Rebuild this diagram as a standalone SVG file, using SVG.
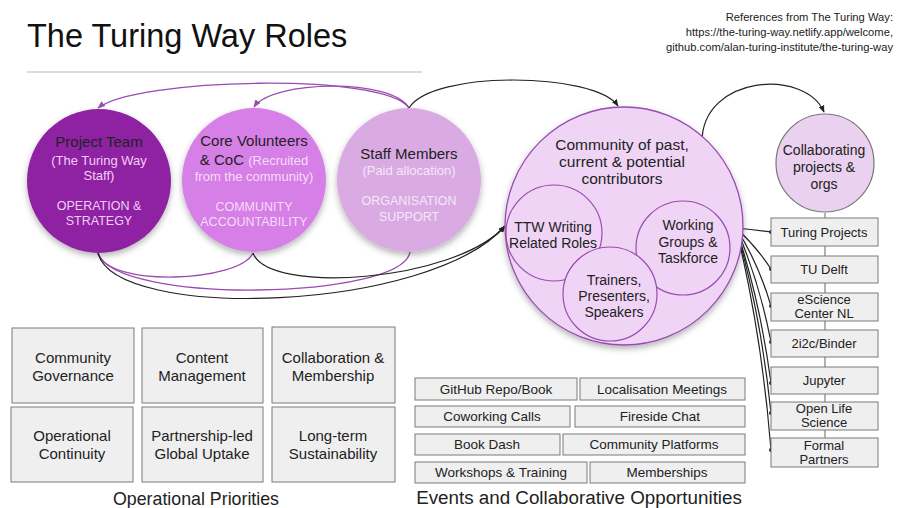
<svg xmlns="http://www.w3.org/2000/svg" width="898" height="508" viewBox="0 0 898 508">
<defs>
<filter id="sh" x="-20%" y="-20%" width="140%" height="140%">
<feDropShadow dx="0" dy="3" stdDeviation="3" flood-color="#000" flood-opacity="0.3"/>
</filter>
<marker id="ab" viewBox="0 0 10 10" refX="9" refY="5" markerWidth="6" markerHeight="6" orient="auto-start-reverse">
<path d="M0,1 L10,5 L0,9 z" fill="#222"/>
</marker>
<marker id="ap" viewBox="0 0 10 10" refX="9" refY="5" markerWidth="6" markerHeight="6" orient="auto-start-reverse">
<path d="M0,1 L10,5 L0,9 z" fill="#9a4bb0"/>
</marker>
<marker id="dot" viewBox="0 0 10 10" refX="5" refY="5" markerWidth="4" markerHeight="4">
<circle cx="5" cy="5" r="4" fill="#111"/>
</marker>
</defs>
<style>
text{font-family:"Liberation Sans",Arial,sans-serif;}
.dk{fill:#222;font-size:15px;}
.lt{font-size:13px;}
.cap{font-size:12.5px;}
.c{text-anchor:middle;}
.box{fill:#efefef;stroke:#7a7a7a;stroke-width:1;}
.bt{fill:#222;font-size:15px;text-anchor:middle;}
.et{fill:#222;font-size:13.5px;text-anchor:middle;}
.rt{fill:#222;font-size:13px;text-anchor:middle;}
.cp{fill:none;stroke:#9a4bb0;stroke-width:1.3;}
.cb{fill:none;stroke:#222;stroke-width:1.2;}
.ct{fill:#222;font-size:15.5px;text-anchor:middle;}
.st{fill:#222;font-size:14px;text-anchor:middle;}
</style>
<rect width="898" height="508" fill="#fff"/>

<g id="title">
<text x="27" y="47" font-size="32.5" fill="#111">The Turing Way Roles</text>
<rect x="27" y="71" width="395" height="2" fill="#dcdcdc"/>
</g>
<g id="references" font-size="11.2" fill="#222" text-anchor="end">
<text x="893" y="21">References from The Turing Way:</text>
<text x="893" y="36">https://the-turing-way.netlify.app/welcome,</text>
<text x="893" y="51">github.com/alan-turing-institute/the-turing-way</text>
</g>

<g id="connectors">
<path class="cp" d="M409,108 C385,72 135,78 98,108" marker-end="url(#ap)"/>
<path class="cp" d="M409,108 C392,78 272,80 254,107" marker-end="url(#ap)"/>
<path class="cb" d="M409,108 C432,70 595,72 618,106" marker-end="url(#ab)"/>
<path class="cp" d="M98,253 C108,288 240,282 253,253"/>
<path class="cp" d="M98,253 C115,305 402,300 410,252"/>
<path class="cb" d="M253,253 C268,295 455,282 505,226" marker-end="url(#ab)"/>
<path class="cb" d="M98,253 C115,322 430,312 505,226" marker-end="url(#ab)"/>
<path class="cb" d="M702,142 C702,75 805,68 824,112" marker-end="url(#ab)"/>
<path d="M825,213 V438" stroke="#888" stroke-width="1.3" fill="none"/>
<g class="cb" marker-end="url(#dot)" marker-start="url(#dot)">
<path d="M736,228 Q755,230 771,232"/>
<path d="M736,228 Q756,246 771,269"/>
<path d="M736,228 Q758,262 771,306"/>
<path d="M736,228 Q759,280 771,342"/>
<path d="M736,228 Q760,300 771,383"/>
<path d="M736,228 Q761,315 771,413"/>
<path d="M736,228 Q762,335 771,450"/>
</g>
</g>

<g id="project-team">
<circle cx="99" cy="181" r="72" fill="#8e22a2" filter="url(#sh)"/>
<text class="dk c" x="99" y="147">Project Team</text>
<text class="lt c" x="99" y="165" fill="#f3cdf7">(The Turing Way</text>
<text class="lt c" x="99" y="180" fill="#f3cdf7">Staff)</text>
<text class="cap c" x="99" y="210" fill="#f3cdf7">OPERATION &amp;</text>
<text class="cap c" x="99" y="225" fill="#f3cdf7">STRATEGY</text>
</g>

<g id="core-volunteers">
<circle cx="254" cy="180" r="72" fill="#d67fe6" filter="url(#sh)"/>
<text class="dk c" x="254" y="146">Core Volunteers</text>
<text class="c" x="254" y="165"><tspan class="dk">&amp; CoC </tspan><tspan class="lt" fill="#f7dbfa">(Recruited</tspan></text>
<text class="lt c" x="254" y="181" fill="#f7dbfa">from the community)</text>
<text class="cap c" x="254" y="211" fill="#f7dbfa">COMMUNITY</text>
<text class="cap c" x="254" y="226" fill="#f7dbfa">ACCOUNTABILITY</text>
</g>

<g id="staff-members">
<circle cx="409" cy="180" r="72" fill="#d9abe2" filter="url(#sh)"/>
<text class="dk c" x="409" y="159">Staff Members</text>
<text class="lt c" x="409" y="175" fill="#f6e6f8">(Paid allocation)</text>
<text class="cap c" x="409" y="205" fill="#f6e6f8">ORGANISATION</text>
<text class="cap c" x="409" y="221" fill="#f6e6f8">SUPPORT</text>
</g>

<g id="community">
<circle cx="624" cy="226" r="119" fill="#f0d4f6" stroke="#9a4bb0" stroke-width="1.3" filter="url(#sh)"/>
<text class="ct" x="622" y="150">Community of past,</text>
<text class="ct" x="622" y="167">current &amp; potential</text>
<text class="ct" x="622" y="184">contributors</text>
</g>
<g id="ttw-writing">
<circle cx="554" cy="233" r="48" fill="#f0d4f6" stroke="#9a4bb0" stroke-width="1.2"/>
<text class="st" x="553" y="232">TTW Writing</text>
<text class="st" x="553" y="248">Related Roles</text>
</g>
<g id="working-groups">
<circle cx="683" cy="248" r="47" fill="#f0d4f6" stroke="#9a4bb0" stroke-width="1.2"/>
<text class="st" x="688" y="230">Working</text>
<text class="st" x="688" y="247">Groups &amp;</text>
<text class="st" x="688" y="263">Taskforce</text>
</g>
<g id="trainers">
<circle cx="610" cy="294" r="47" fill="#f0d4f6" stroke="#9a4bb0" stroke-width="1.2"/>
<text class="st" x="614" y="285">Trainers,</text>
<text class="st" x="614" y="301">Presenters,</text>
<text class="st" x="614" y="317">Speakers</text>
</g>

<g id="collaborating">
<circle cx="825" cy="163" r="49" fill="#ead1f0" stroke="#777" stroke-width="1.2"/>
<text class="st" x="824" y="155">Collaborating</text>
<text class="st" x="824" y="172">projects &amp;</text>
<text class="st" x="824" y="189">orgs</text>
</g>

<g id="turing-projects"><rect class="box" x="771" y="218" width="107" height="28"/><text class="rt" x="824" y="237">Turing Projects</text></g>
<g id="tu-delft"><rect class="box" x="771" y="256" width="107" height="27"/><text class="rt" x="824" y="274">TU Delft</text></g>
<g id="escience"><rect class="box" x="771" y="293" width="107" height="28"/><text class="rt" x="824" y="304">eScience</text><text class="rt" x="824" y="318">Center NL</text></g>
<g id="binder"><rect class="box" x="771" y="330" width="107" height="27"/><text class="rt" x="824" y="348">2i2c/Binder</text></g>
<g id="jupyter"><rect class="box" x="771" y="367" width="107" height="27"/><text class="rt" x="824" y="385">Jupyter</text></g>
<g id="open-life"><rect class="box" x="771" y="402" width="107" height="28"/><text class="rt" x="824" y="413">Open Life</text><text class="rt" x="824" y="427">Science</text></g>
<g id="formal-partners"><rect class="box" x="771" y="438" width="107" height="29"/><text class="rt" x="824" y="450">Formal</text><text class="rt" x="824" y="464">Partners</text></g>

<g id="op-governance"><rect class="box" x="12" y="328" width="122" height="75"/><text class="bt" x="73" y="363">Community</text><text class="bt" x="73" y="381">Governance</text></g>
<g id="op-content"><rect class="box" x="142" y="328" width="121" height="75"/><text class="bt" x="202" y="363">Content</text><text class="bt" x="202" y="381">Management</text></g>
<g id="op-collab"><rect class="box" x="272" y="327" width="123" height="76"/><text class="bt" x="333" y="363">Collaboration &amp;</text><text class="bt" x="333" y="381">Membership</text></g>
<g id="op-continuity"><rect class="box" x="11" y="407" width="122" height="75"/><text class="bt" x="72" y="441">Operational</text><text class="bt" x="72" y="459">Continuity</text></g>
<g id="op-partnership"><rect class="box" x="142" y="407" width="121" height="75"/><text class="bt" x="202" y="441">Partnership-led</text><text class="bt" x="202" y="459">Global Uptake</text></g>
<g id="op-sustain"><rect class="box" x="272" y="407" width="123" height="75"/><text class="bt" x="333" y="441">Long-term</text><text class="bt" x="333" y="459">Sustainability</text></g>
<text x="196" y="505" font-size="17.8" fill="#222" text-anchor="middle">Operational Priorities</text>

<g id="ev-github"><rect class="box" x="415" y="378" width="162" height="22"/><text class="et" x="496" y="394">GitHub Repo/Book</text></g>
<g id="ev-localisation"><rect class="box" x="580" y="378" width="165" height="22"/><text class="et" x="662" y="394">Localisation Meetings</text></g>
<g id="ev-coworking"><rect class="box" x="415" y="406" width="155" height="21"/><text class="et" x="492" y="421">Coworking Calls</text></g>
<g id="ev-fireside"><rect class="box" x="575" y="406" width="170" height="21"/><text class="et" x="660" y="421">Fireside Chat</text></g>
<g id="ev-bookdash"><rect class="box" x="415" y="434" width="145" height="21"/><text class="et" x="487" y="449">Book Dash</text></g>
<g id="ev-platforms"><rect class="box" x="563" y="434" width="182" height="21"/><text class="et" x="654" y="449">Community Platforms</text></g>
<g id="ev-workshops"><rect class="box" x="415" y="462" width="172" height="21"/><text class="et" x="501" y="477">Workshops &amp; Training</text></g>
<g id="ev-memberships"><rect class="box" x="590" y="462" width="155" height="21"/><text class="et" x="667" y="477">Memberships</text></g>
<text x="579" y="504" font-size="18.8" fill="#222" text-anchor="middle">Events and Collaborative Opportunities</text>
</svg>
